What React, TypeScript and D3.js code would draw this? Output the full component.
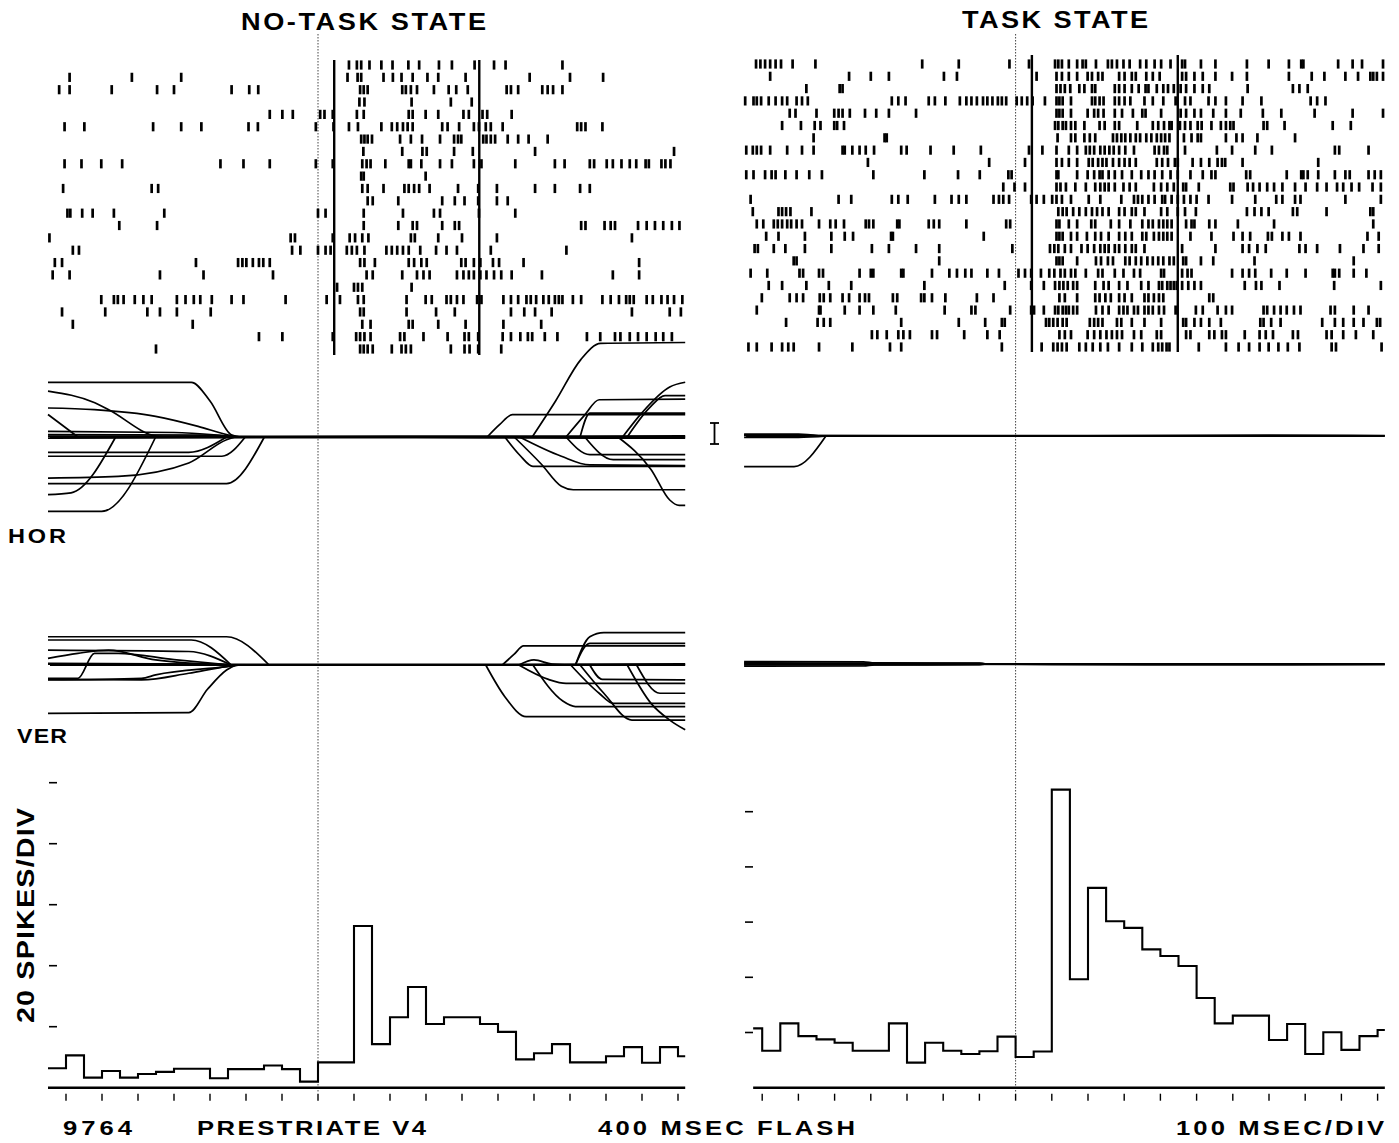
import * as d3 from "d3";

const W = 1399;
const H = 1143;
const FONT = "'Liberation Sans', Arial, Helvetica, sans-serif";

// time in ms relative to the trigger (dotted line)
const T_START = -750;
const T_END = 1020;
const TICK_MS = d3.range(-700, 1001, 100);
const FLASH_MS = [45, 448];
const BIN_MS = 50;
const Y_TICKS = [20, 40, 60, 80, 100];

// spike counts per 50 ms bin, first bin starts at -750 ms
const NOTASK_HIST = [
  6.4, 10.6, 3.3, 5.5, 3.3, 4.5, 5.2, 6.2, 6.2, 3.1, 6.1, 6.1, 7.3, 6.1, 2.0,
  8.3, 8.3, 53, 14.3, 23.1, 33, 20.9, 23.1, 23.1, 20.9, 18.3, 9.3, 11.3, 14.3,
  8.3, 8.3, 10.3, 13.3, 8.2, 13.3, 10.3,
];
const TASK_HIST = [
  21.5, 13.4, 23.3, 18.7, 17.5, 16.3, 13.4, 13.4, 23.3, 9.1, 16.3, 13.4, 12.2,
  13.2, 18.5, 11.1, 13.1, 108, 39.3, 72.4, 60.3, 57.9, 50.1, 47.7, 44.1, 32.5,
  23.3, 26.1, 26.1, 17.3, 23.1, 12.2, 20.1, 13.7, 18.7, 20.9,
];

// spike times (ms) per trial
const NOTASK_SPIKES = [
  [86, 108, 120, 143, 176, 207, 251, 281, 336, 372, 435, 489, 521, 679],
  [-690, -517, -380, 82, 110, 120, 182, 208, 232, 263, 304, 334, 410, 588, 700, 792],
  [-719, -690, -573, -447, -400, -240, -191, -166, 117, 127, 138, 234, 244, 258, 275, 322, 363, 384, 416, 524, 536, 556, 623, 638, 653, 679],
  [115, 129, 260, 369, 427],
  [-134, -99, -70, 6, 18, 41, 108, 127, 252, 263, 299, 334, 404, 419, 457, 470, 538],
  [-704, -649, -458, -380, -324, -193, -167, -6, 43, 86, 111, 176, 205, 220, 236, 249, 263, 345, 360, 392, 433, 447, 466, 480, 513, 720, 731, 743, 790],
  [120, 129, 138, 150, 228, 258, 289, 339, 378, 389, 398, 459, 468, 480, 492, 527, 556, 585, 638],
  [126, 234, 290, 302, 378, 430, 603, 989],
  [-704, -657, -602, -544, -271, -207, -134, -6, 41, 123, 135, 146, 187, 252, 258, 287, 339, 372, 433, 454, 548, 658, 685, 755, 767, 802, 819, 843, 866, 884, 910, 919, 954, 965, 979],
  [120, 127, 299],
  [-708, -462, -444, 123, 138, 182, 240, 252, 267, 281, 310, 389, 445, 497, 603, 658, 728, 755],
  [138, 152, 223, 345, 380, 407, 445, 497, 527],
  [-696, -688, -655, -626, -567, -427, 0, 21, 127, 236, 322, 339, 447, 548],
  [-552, -447, 127, 223, 263, 275, 345, 380, 392, 731, 743, 796, 813, 825, 889, 913, 936, 959, 983, 1004],
  [-746, -76, -64, 41, 88, 103, 123, 140, 258, 269, 334, 400, 497, 872],
  [-681, -664, -72, -49, 0, 21, 35, 80, 94, 108, 129, 190, 205, 220, 236, 252, 284, 328, 357, 386, 480, 690],
  [-731, -711, -339, -222, -210, -199, -181, -164, -152, -134, 117, 129, 158, 252, 267, 287, 302, 398, 410, 433, 451, 486, 503, 571, 892],
  [-737, -690, -439, -318, -125, 135, 152, 234, 275, 293, 310, 386, 404, 419, 433, 451, 468, 489, 509, 538, 622, 819, 892],
  [53, 100, 111, 123, 260],
  [-602, -567, -556, -540, -509, -485, -462, -392, -368, -345, -327, -295, -240, -207, -90, 24, 61, 111, 127, 246, 299, 316, 357, 369, 386, 404, 442, 454, 515, 536, 556, 579, 591, 606, 626, 641, 658, 669, 679, 708, 731, 790, 813, 836, 856, 866, 877, 913, 930, 954, 971, 989, 1012],
  [-711, -591, -474, -439, -392, -298, 117, 127, 246, 328, 380, 536, 573, 603, 649, 872, 977, 1008],
  [-681, -348, 123, 146, 252, 263, 334, 410, 515, 620],
  [-164, -99, 41, 106, 117, 129, 146, 228, 240, 293, 360, 407, 419, 445, 513, 536, 562, 583, 595, 630, 665, 747, 784, 825, 840, 866, 889, 913, 938, 959, 983],
  [-450, 117, 127, 138, 152, 205, 232, 244, 258, 369, 407, 421, 445, 509],
];

const TASK_SPIKES = [
  [-717, -705, -692, -678, -663, -648, -616, -553, -258, -157, -17, 37, 109, 118, 128, 147, 170, 185, 194, 222, 255, 266, 280, 298, 315, 344, 361, 384, 402, 428, 460, 468, 512, 552, 639, 699, 755, 789, 795, 891, 931, 957, 1015],
  [-678, -460, -400, -350, -198, -162, 58, 113, 128, 147, 170, 199, 211, 228, 240, 286, 301, 321, 332, 361, 379, 398, 460, 471, 494, 517, 552, 598, 639, 755, 818, 853, 911, 946, 980, 988, 998, 1015],
  [-578, -486, -478, 113, 124, 136, 151, 176, 190, 211, 220, 274, 286, 301, 321, 340, 359, 367, 390, 408, 421, 437, 456, 471, 494, 517, 535, 641, 766, 784, 807],
  [-747, -724, -715, -703, -682, -663, -645, -631, -605, -590, -574, -342, -324, -304, -240, -223, -194, -154, -136, -122, -107, -90, -78, -64, -49, -38, -26, 3, 17, 32, 47, 81, 113, 121, 130, 153, 211, 220, 232, 243, 274, 286, 301, 317, 356, 379, 408, 442, 468, 483, 533, 552, 581, 627, 679, 815, 833, 856],
  [-624, -608, -550, -501, -489, -478, -458, -416, -385, -350, -275, 113, 121, 130, 153, 199, 217, 228, 243, 274, 294, 324, 350, 359, 402, 456, 471, 494, 512, 546, 581, 622, 683, 734, 826, 931, 1015],
  [-645, -593, -555, -539, -501, -493, -474, 109, 118, 130, 139, 153, 165, 190, 232, 246, 274, 286, 336, 379, 394, 410, 425, 431, 454, 468, 483, 503, 514, 541, 567, 581, 593, 602, 685, 695, 743, 876, 926],
  [-558, -362, -356, 116, 153, 165, 190, 205, 220, 269, 280, 292, 303, 317, 332, 344, 361, 375, 390, 402, 413, 425, 465, 486, 503, 512, 581, 610, 627, 668, 772],
  [-744, -726, -715, -703, -678, -631, -590, -558, -478, -472, -451, -431, -414, -391, -316, -301, -235, -171, -96, 37, 74, 113, 147, 170, 194, 205, 217, 234, 246, 259, 271, 286, 303, 327, 384, 396, 410, 419, 468, 556, 598, 662, 708, 882, 894, 975],
  [-408, -73, 26, 113, 128, 147, 170, 202, 213, 228, 240, 251, 269, 286, 301, 315, 332, 390, 405, 421, 440, 448, 489, 512, 535, 558, 570, 579, 627, 836],
  [-744, -724, -692, -674, -663, -636, -605, -570, -535, -393, -252, -159, -99, -20, -11, 113, 118, 170, 199, 217, 232, 240, 257, 274, 294, 321, 347, 367, 384, 405, 428, 448, 483, 517, 541, 552, 637, 648, 749, 789, 795, 807, 836, 882, 911, 923, 975, 992, 1009],
  [-34, -3, 26, 113, 124, 139, 165, 194, 220, 234, 246, 257, 274, 298, 315, 332, 382, 402, 419, 437, 463, 471, 506, 593, 602, 641, 656, 674, 695, 714, 737, 772, 801, 833, 859, 888, 905, 928, 949, 986, 1009],
  [-732, -489, -454, -342, -324, -298, -223, -177, -157, -136, -61, -46, -34, -18, 43, 58, 78, 101, 113, 128, 153, 202, 234, 292, 327, 338, 350, 367, 384, 405, 413, 431, 448, 465, 483, 500, 533, 598, 662, 720, 737, 772, 787, 911, 1009],
  [-726, -655, -645, -634, -622, -564, 118, 130, 141, 159, 176, 194, 211, 225, 240, 257, 286, 301, 321, 332, 356, 402, 419, 448, 468, 498, 639, 660, 679, 699, 766, 778, 859, 980, 988],
  [-715, -697, -668, -657, -645, -631, -620, -605, -590, -543, -512, -497, -474, -414, -405, -393, -327, -321, -240, -226, -211, -136, -26, -15, 113, 121, 147, 170, 209, 220, 263, 286, 317, 350, 367, 379, 396, 408, 419, 431, 471, 486, 494, 535, 552, 614, 714, 988],
  [-689, -655, -582, -509, -472, -449, -344, -339, -88, 113, 121, 130, 153, 170, 197, 220, 236, 257, 286, 303, 321, 350, 361, 382, 396, 408, 419, 431, 483, 541, 602, 627, 648, 697, 708, 737, 755, 787, 972, 1003],
  [-721, -712, -668, -636, -582, -509, -397, -350, -275, -211, -9, 95, 107, 118, 136, 153, 182, 199, 217, 234, 246, 257, 274, 286, 303, 321, 332, 356, 460, 552, 627, 645, 668, 691, 784, 801, 833, 896, 961, 1003],
  [-613, -605, -211, 113, 121, 130, 170, 222, 236, 255, 269, 303, 315, 332, 347, 364, 379, 394, 408, 425, 437, 463, 471, 512, 546, 660, 934],
  [-732, -686, -597, -587, -543, -532, -431, -400, -393, -316, -310, -231, -183, -162, -139, -122, -78, -46, 8, 26, 43, 70, 93, 107, 124, 136, 153, 165, 194, 228, 240, 274, 298, 327, 344, 402, 410, 460, 475, 486, 598, 627, 645, 662, 706, 749, 801, 876, 882, 894, 934, 969],
  [-682, -645, -578, -516, -454, -252, -30, 43, 78, 109, 121, 132, 144, 159, 170, 220, 243, 257, 286, 309, 347, 367, 396, 405, 419, 428, 437, 445, 460, 477, 494, 512, 633, 664, 679, 729, 880, 1009],
  [-701, -624, -605, -587, -541, -530, -512, -478, -460, -431, -416, -405, -339, -327, -261, -252, -231, -194, -107, -61, 121, 136, 170, 220, 232, 248, 263, 286, 301, 321, 356, 367, 382, 396, 408, 535, 546],
  [-715, -543, -539, -472, -431, -393, -331, -196, -122, -111, -15, 43, 51, 78, 109, 118, 130, 139, 147, 159, 170, 222, 240, 257, 286, 298, 309, 327, 338, 356, 367, 379, 396, 410, 442, 498, 517, 558, 581, 598, 685, 695, 714, 732, 749, 769, 787, 870, 882, 934, 975],
  [-634, -547, -530, -512, -316, -157, -84, -38, -30, 84, 93, 104, 116, 130, 141, 205, 217, 228, 240, 280, 292, 321, 356, 402, 463, 471, 494, 512, 535, 567, 676, 685, 706, 732, 847, 882, 905, 934, 961, 998, 1007],
  [-397, -382, -356, -324, -310, -292, -231, -217, -142, -78, -44, 121, 136, 153, 199, 217, 234, 251, 266, 280, 294, 327, 347, 390, 402, 471, 483, 535, 549, 570, 581, 633, 674, 691, 711, 766, 780, 859, 873, 905, 940, 988],
  [-738, -715, -674, -645, -628, -613, -543, -451, -347, -316, -38, 72, 104, 116, 128, 141, 176, 194, 213, 234, 255, 286, 321, 350, 379, 394, 405, 417, 425, 506, 581, 616, 645, 674, 699, 726, 752, 784, 873, 885, 1011],
];

// eye position traces: [ms, deg] control points (up = positive)
const NOTASK_HOR = [
  [[-750, 3.04], [-352, 3.04], [-300, 2.0], [-241, 0.13], [-215, 0]],
  [[-750, 2.55], [-620, 1.9], [-580, 1.5], [-450, 0.05], [-420, 0]],
  [[-750, 1.61], [-621, 1.52], [-451, 1.15], [-333, 0.59], [-254, 0.13], [-225, 0]],
  [[-750, 1.25], [-700, 0.5], [-667, 0]],
  [[-750, 0.31], [-400, 0.25], [-250, 0.05], [-220, 0]],
  [[-750, 0.13], [-300, 0.1], [-230, 0]],
  [[-750, -0.85], [-359, -0.85], [-254, 0]],
  [[-750, -1.07], [-267, -1.07], [-202, 0]],
  [[-750, -2.28], [-555, -2.19], [-359, -1.44], [-254, -0.15], [-230, 0]],
  [[-750, -2.59], [-254, -2.59], [-149, 0]],
  [[-750, -3.2], [-686, -3.1], [-562, 0]],
  [[-750, -4.13], [-601, -4.13], [-451, 0]],
  [[595, 0], [660, 2.0], [730, 4.3], [785, 5.2], [1020, 5.25]],
  [[470, 0], [505, 0.7], [540, 1.24], [1020, 1.24]],
  [[689, 0], [740, 1.2], [781, 2.07], [1020, 2.1]],
  [[859, 0], [920, 1.6], [964, 2.3], [1020, 2.3]],
  [[846, 0], [899, 1.33], [977, 2.78], [1020, 3.04]],
  [[728, 0], [755, 1.33], [1020, 1.33]],
  [[519, 0], [560, -1.0], [597, -1.63], [1020, -1.63]],
  [[560, 0], [676, -1.07], [755, -1.55], [1020, -1.59]],
  [[545, 0], [620, -1.5], [676, -2.74], [709, -2.93], [1020, -2.93]],
  [[689, 0], [755, -0.98], [1020, -0.98]],
  [[833, 0], [925, -1.8], [977, -3.5], [1003, -3.8], [1020, -3.8]],
  [[741, 0], [820, -1.26], [1020, -1.26]],
  [[-750, 0.05], [-150, 0.04], [480, 0.05], [1020, 0.06]],
  [[-750, -0.06], [-150, -0.03], [480, -0.05], [1020, -0.07]],
];

const NOTASK_VER = [
  [[-750, 1.57], [-254, 1.57], [-136, 0]],
  [[-750, 1.39], [-352, 1.39], [-241, 0]],
  [[-750, 0.83], [-359, 0.75], [-241, 0]],
  [[-750, 0.37], [-667, 0.65], [-582, 0.83], [-451, 0.28], [-254, 0]],
  [[-750, 0.09], [-300, 0.05], [-240, 0]],
  [[-750, -0.74], [-667, -0.74], [-621, 0.65], [-555, 0.65], [-400, 0.3], [-241, 0]],
  [[-750, -0.83], [-490, -0.74], [-451, -0.55], [-254, -0.09], [-220, 0]],
  [[-750, -0.8], [-490, -0.83], [-359, -0.46], [-254, -0.09], [-215, 0]],
  [[-750, -2.69], [-359, -2.65], [-307, -1.35], [-254, -0.28], [-228, 0]],
  [[512, 0], [545, 0.6], [571, 1.06], [1020, 1.06]],
  [[715, 0], [755, 1.57], [794, 1.8], [1020, 1.8]],
  [[715, 0], [755, 1.2], [1020, 1.2]],
  [[558, 0], [600, 0.28], [650, 0.05], [700, 0]],
  [[466, 0], [519, -1.76], [578, -2.87], [1020, -2.87]],
  [[558, 0], [640, -0.8], [689, -1.02], [1020, -1.02]],
  [[597, 0], [680, -2.0], [715, -2.31], [1020, -2.31]],
  [[702, 0], [781, -1.57], [820, -2.13], [1020, -2.13]],
  [[859, 0], [925, -2.13], [977, -3.06], [1020, -3.6]],
  [[885, 0], [950, -1.57], [1020, -1.57]],
  [[728, 0], [794, -1.57], [872, -3.06], [1020, -3.06]],
  [[755, 0], [790, -0.8], [1020, -0.83]],
  [[-750, 0.05], [-200, 0.03], [500, 0.04], [1020, 0.06]],
];

const TASK_HOR = [
  [[-750, -1.7], [-612, -1.7], [-524, 0]],
  [[-750, 0.1], [-600, 0.1], [-540, 0]],
  [[-750, -0.08], [-600, -0.08], [-520, 0]],
  [[-750, 0.05], [-560, 0]],
  [[-750, 0.03], [200, 0.02], [700, 0.05], [1020, 0.02]],
];

const TASK_VER = [
  [[-750, 0.13], [-420, 0.12], [-390, 0.06], [-100, 0.05], [-80, 0]],
  [[-750, -0.12], [-420, -0.11], [-390, -0.05], [-100, -0.04], [-80, 0]],
  [[-750, 0.06], [-400, 0.05], [-100, 0.03], [-80, 0]],
  [[-750, -0.05], [-400, -0.05], [-100, -0.02], [-80, 0]],
  [[-750, 0.02], [100, -0.03], [500, -0.05], [1020, -0.04]],
];

type Pt = [number, number];

interface PanelLayout {
  x0: number;
  x1: number;
  rasterTop: number;
  rasterBottom: number;
  flashTop: number;
  flashBottom: number;
  horY: number;
  verY: number;
  histTop: number;
  histStart: number;
  yTickX: number;
}

const PX_PER_DEG = 18;
const HIST_BASE = 1087.7;

function Panel({
  layout,
  spikes,
  hist,
  hor,
  ver,
}: {
  layout: PanelLayout;
  spikes: number[][];
  hist: number[];
  hor: Pt[][];
  ver: Pt[][];
}) {
  const x = d3.scaleLinear().domain([T_START, T_END]).range([layout.x0, layout.x1]);
  const row = d3
    .scaleLinear()
    .domain([0, spikes.length - 1])
    .range([layout.rasterTop, layout.rasterBottom]);
  const yHist = d3.scaleLinear().domain([0, 100]).range([HIST_BASE, layout.histTop]);

  const eyeLine = (center: number) => {
    const y = d3
      .scaleLinear()
      .domain([-1, 1])
      .range([center + PX_PER_DEG, center - PX_PER_DEG]);
    return d3
      .line<Pt>()
      .x((d) => x(d[0]))
      .y((d) => y(d[1]))
      .curve(d3.curveMonotoneX);
  };
  const horLine = eyeLine(layout.horY);
  const verLine = eyeLine(layout.verY);

  // step histogram
  const histPts: Pt[] = hist.map((v, i) => [
    Math.max(T_START + i * BIN_MS, layout.histStart),
    v,
  ]);
  histPts.push([T_END, hist[hist.length - 1]]);
  const histLine = d3
    .line<Pt>()
    .x((d) => x(d[0]))
    .y((d) => yHist(d[1]))
    .curve(d3.curveStepAfter);

  const x0 = x(0);

  return (
    <g>
      {/* trigger line */}
      <line
        x1={x0}
        x2={x0}
        y1={34}
        y2={1092}
        stroke="#444"
        strokeWidth={1}
        strokeDasharray="1.5,1.5"
      />

      {/* raster */}
      {spikes.map((trial, r) => (
        <g key={r}>
          {trial
            .filter((t) => t >= T_START && t <= T_END)
            .map((t, k) => (
              <line
                key={k}
                x1={x(t)}
                x2={x(t)}
                y1={row(r) - 4.6}
                y2={row(r) + 4.6}
                stroke="#000"
                strokeWidth={2.7}
              />
            ))}
        </g>
      ))}
      {FLASH_MS.map((t) => (
        <line
          key={t}
          x1={x(t)}
          x2={x(t)}
          y1={layout.flashTop}
          y2={layout.flashBottom}
          stroke="#000"
          strokeWidth={2.4}
        />
      ))}

      {/* eye position */}
      {[layout.horY, layout.verY].map((cy) => (
        <line
          key={cy}
          x1={layout.x0 + 2}
          x2={layout.x1}
          y1={cy}
          y2={cy}
          stroke="#000"
          strokeWidth={2}
        />
      ))}
      {hor.map((pts, i) => (
        <path key={"h" + i} d={horLine(pts) ?? ""} fill="none" stroke="#000" strokeWidth={1.7} />
      ))}
      {ver.map((pts, i) => (
        <path key={"v" + i} d={verLine(pts) ?? ""} fill="none" stroke="#000" strokeWidth={1.7} />
      ))}

      {/* histogram */}
      <line
        x1={x(layout.histStart)}
        x2={x(T_END)}
        y1={HIST_BASE}
        y2={HIST_BASE}
        stroke="#000"
        strokeWidth={2.6}
      />
      <path d={histLine(histPts) ?? ""} fill="none" stroke="#000" strokeWidth={2.1} />
      {TICK_MS.map((t) => (
        <line
          key={t}
          x1={x(t)}
          x2={x(t)}
          y1={HIST_BASE + 6}
          y2={HIST_BASE + 13}
          stroke="#000"
          strokeWidth={1.4}
        />
      ))}
      {Y_TICKS.map((v) => (
        <line
          key={v}
          x1={layout.yTickX}
          x2={layout.yTickX + 8}
          y1={yHist(v)}
          y2={yHist(v)}
          stroke="#000"
          strokeWidth={1.6}
        />
      ))}
    </g>
  );
}

const LEFT: PanelLayout = {
  x0: 48,
  x1: 48 + (T_END - T_START) * 0.36,
  rasterTop: 65,
  rasterBottom: 349,
  flashTop: 60,
  flashBottom: 355,
  horY: 437,
  verY: 665,
  histTop: 782.7,
  histStart: -750,
  yTickX: 49,
};

const RIGHT: PanelLayout = {
  x0: 1015.6 + T_START * 0.362,
  x1: 1015.6 + T_END * 0.362,
  rasterTop: 64,
  rasterBottom: 347,
  flashTop: 55,
  flashBottom: 352,
  horY: 436,
  verY: 664,
  histTop: 811.7,
  histStart: -725,
  yTickX: 745,
};

// wide, letter-spaced bold caps: glyphs stretched by sx, the rest filled with spacing
function Label({
  x,
  y,
  size,
  width,
  sx,
  rotate = 0,
  children,
}: {
  x: number;
  y: number;
  size: number;
  width: number;
  sx: number;
  rotate?: number;
  children: string;
}) {
  return (
    <text
      transform={`translate(${x},${y}) rotate(${rotate}) scale(${sx},1)`}
      fontFamily={FONT}
      fontWeight={700}
      fontSize={size}
      fill="#000"
      textLength={width / sx}
      lengthAdjust="spacing"
    >
      {children}
    </text>
  );
}

export default function App() {
  return (
    <div style={{ position: "absolute", left: 0, top: 0, background: "#fff" }}>
      <svg width={W} height={H} style={{ display: "block" }}>
        <rect width={W} height={H} fill="#fff" />
        <Panel layout={LEFT} spikes={NOTASK_SPIKES} hist={NOTASK_HIST} hor={NOTASK_HOR as Pt[][]} ver={NOTASK_VER as Pt[][]} />
        <Panel layout={RIGHT} spikes={TASK_SPIKES} hist={TASK_HIST} hor={TASK_HOR as Pt[][]} ver={TASK_VER as Pt[][]} />

        {/* 1 deg calibration bar */}
        <g stroke="#000" strokeWidth={1.8}>
          <line x1={714.5} x2={714.5} y1={423} y2={444} />
          <line x1={710} x2={719} y1={423} y2={423} />
          <line x1={710} x2={719} y1={444} y2={444} />
        </g>

        <Label x={241} y={29.5} size={23} width={245} sx={1.18}>NO-TASK STATE</Label>
        <Label x={962} y={27.5} size={23} width={186} sx={1.18}>TASK STATE</Label>
        <Label x={8} y={543} size={21} width={58} sx={1.12}>HOR</Label>
        <Label x={17} y={743} size={21} width={50} sx={1.1}>VER</Label>
        <Label x={34} y={1023} size={24} width={215} sx={1.2} rotate={-90}>20 SPIKES/DIV</Label>
        <Label x={63} y={1134.5} size={20.5} width={69} sx={1.25}>9764</Label>
        <Label x={197} y={1134.5} size={20.5} width={229} sx={1.25}>PRESTRIATE V4</Label>
        <Label x={598} y={1134.5} size={20.5} width={257} sx={1.25}>400 MSEC FLASH</Label>
        <Label x={1176} y={1134.5} size={20.5} width={208} sx={1.25}>100 MSEC/DIV</Label>
      </svg>
    </div>
  );
}
